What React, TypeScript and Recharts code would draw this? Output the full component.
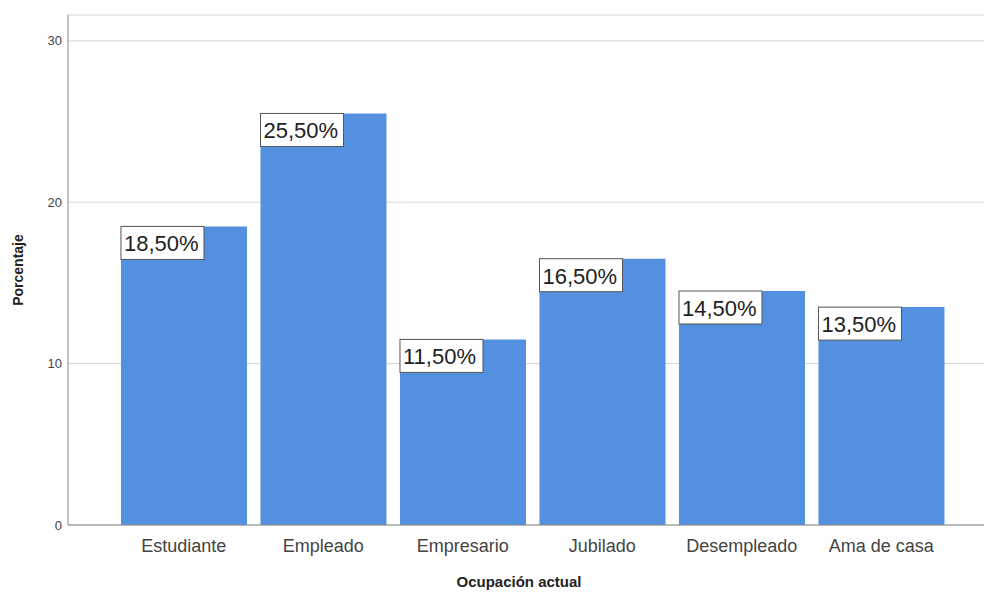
import { BarChart, Bar, XAxis, YAxis, CartesianGrid, LabelList, Label } from 'recharts'

const categories = ['Estudiante', 'Empleado', 'Empresario', 'Jubilado', 'Desempleado', 'Ama de casa']
const percentages = [18.5, 25.5, 11.5, 16.5, 14.5, 13.5]
const yTicks = [0, 10, 20, 30]

const data = categories.map((name, i) => ({ name, value: percentages[i] }))

const font = '"Liberation Sans", Arial, sans-serif'

function formatPct(v: number): string {
  return v.toFixed(2).replace('.', ',') + '%'
}

function ValueBox(props: any) {
  const { x, y, value } = props
  const bx = Number(x)
  const by = Number(y)
  return (
    <g>
      <rect x={bx} y={by} width={83} height={33} fill="#fff" stroke="#555" strokeWidth={1} />
      <text x={bx + 3} y={by + 25} fontFamily={font} fontSize={22} fill="#222">
        {formatPct(Number(value))}
      </text>
    </g>
  )
}

function YTitle(props: any) {
  const { viewBox } = props
  const cx = 18
  const cy = viewBox.y + viewBox.height / 2
  return (
    <text
      x={cx}
      y={cy}
      transform={`rotate(-90 ${cx} ${cy})`}
      textAnchor="middle"
      dominantBaseline="central"
      fontFamily={font}
      fontSize={14}
      fontWeight="bold"
      fill="#222"
    >
      Porcentaje
    </text>
  )
}

export default function App() {
  return (
    <div style={{ position: 'absolute', left: 0, top: 0, width: 984, height: 592, background: '#fff' }}>
      <BarChart
        width={984}
        height={592}
        data={data}
        margin={{ top: 15, right: 0, bottom: 0, left: 0 }}
        barCategoryGap="5%"
      >
        <CartesianGrid horizontal vertical={false} stroke="#d6d6d6" />
        <XAxis
          dataKey="name"
          height={67}
          padding={{ left: 46, right: 33 }}
          axisLine={{ stroke: '#888' }}
          tickLine={false}
          tickSize={8}
          tickMargin={6}
          tick={{ fontSize: 18, fill: '#444', fontFamily: font }}
        >
          <Label
            value="Ocupación actual"
            position="insideBottom"
            offset={5}
            dx={-7}
            style={{ fontSize: 15, fontWeight: 'bold', fill: '#222', fontFamily: font }}
          />
        </XAxis>
        <YAxis
          width={68}
          domain={[0, 31.6]}
          ticks={yTicks}
          allowDataOverflow
          axisLine={{ stroke: '#888' }}
          tickLine={false}
          tickSize={4}
          tickMargin={2}
          tick={{ fontSize: 13, fill: '#444', fontFamily: font }}
        >
          <Label content={YTitle} />
        </YAxis>
        <Bar dataKey="value" fill="#5391e0" isAnimationActive={false}>
          <LabelList dataKey="value" content={ValueBox} />
        </Bar>
      </BarChart>
    </div>
  )
}
